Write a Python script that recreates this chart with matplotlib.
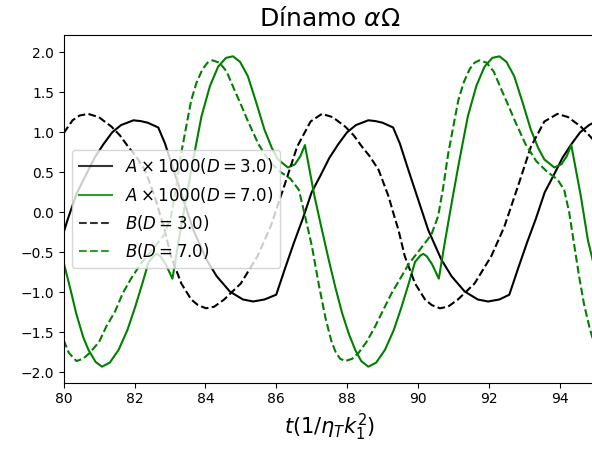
import matplotlib
matplotlib.use("Agg")
import matplotlib.pyplot as plt

#%% Data #######################################################################
# A x 1000, D = 3.0
t_a3 = [80.0, 80.12, 80.37, 80.62, 80.87, 81.12, 81.37, 81.62, 81.97, 82.17, 82.37,
        82.67, 82.86, 83.1, 83.38, 83.66, 84.03, 84.32, 84.69, 85.06, 85.35, 85.67,
        86.0, 86.25, 86.5, 86.75, 87.0, 87.25, 87.5, 87.75, 88.0, 88.25, 88.6, 88.8,
        89.0, 89.3, 89.49, 89.73, 90.01, 90.29, 90.66, 90.95, 91.32, 91.69, 91.98,
        92.3, 92.58, 92.83, 93.08, 93.33, 93.58, 93.83, 94.08, 94.33, 94.58, 94.83,
        95.0]
a3 = [-0.25, -0.08, 0.24, 0.46, 0.68, 0.85, 1.00, 1.09, 1.15, 1.14, 1.12,
      1.06, 0.86, 0.53, 0.155, -0.22, -0.59, -0.80, -0.99, -1.09, -1.115, -1.09,
      -1.03, -0.70, -0.38, -0.08, 0.25, 0.46, 0.68, 0.85, 1.00, 1.09, 1.15, 1.14,
      1.12, 1.06, 0.86, 0.53, 0.155, -0.22, -0.59, -0.80, -0.99, -1.09, -1.115,
      -1.09, -1.03, -0.70, -0.38, -0.08, 0.25, 0.46, 0.68, 0.85, 1.00, 1.09,
      1.13]

# A x 1000, D = 7.0
t_a7 = [80.0, 80.2, 80.35, 80.55, 80.7, 80.9, 81.08, 81.3, 81.55, 81.8, 82.02, 82.2,
        82.4, 82.55, 82.63, 82.73, 82.88, 83.07, 83.23, 83.43, 83.63, 83.89, 84.13,
        84.36, 84.58, 84.78, 84.98, 85.2, 85.43, 85.67, 85.88, 86.05, 86.33, 86.53,
        86.68, 86.81, 87.08, 87.28, 87.48, 87.67, 87.86, 88.05, 88.23, 88.4, 88.6,
        88.82, 89.07, 89.32, 89.54, 89.72, 89.92, 90.07, 90.15, 90.25, 90.4, 90.59,
        90.75, 90.95, 91.15, 91.41, 91.65, 91.88, 92.1, 92.3, 92.5, 92.72, 92.95,
        93.19, 93.4, 93.57, 93.85, 94.05, 94.2, 94.33, 94.6, 94.8, 95.0]
a7 = [-0.63, -0.98, -1.26, -1.56, -1.72, -1.87, -1.93, -1.88, -1.72, -1.47, -1.18, -0.92,
      -0.62, -0.54, -0.52, -0.55, -0.65, -0.83, -0.40, 0.11, 0.60, 1.20, 1.58,
      1.82, 1.93, 1.95, 1.88, 1.70, 1.38, 1.03, 0.80, 0.66, 0.56, 0.60,
      0.70, 0.84, 0.20, -0.20, -0.59, -0.94, -1.26, -1.52, -1.72, -1.86, -1.93,
      -1.88, -1.72, -1.47, -1.18, -0.92, -0.62, -0.54, -0.52, -0.55, -0.65, -0.83,
      -0.40, 0.11, 0.60, 1.20, 1.58, 1.82, 1.93, 1.95, 1.88, 1.70, 1.38,
      1.03, 0.80, 0.66, 0.56, 0.60, 0.70, 0.84, 0.20, -0.35, -0.72]

# B, D = 3.0
t_b3 = [80.0, 80.25, 80.45, 80.69, 80.99, 81.35, 81.59, 81.82, 82.04, 82.29, 82.57,
        82.7, 82.85, 83.03, 83.32, 83.6, 83.79, 84.02, 84.25, 84.53, 85.0, 85.47,
        85.84, 86.22, 86.59, 86.97, 87.29, 87.59, 87.95, 88.19, 88.42, 88.64, 88.89,
        89.17, 89.3, 89.45, 89.63, 89.92, 90.2, 90.39, 90.62, 90.85, 91.13, 91.6,
        92.07, 92.44, 92.82, 93.19, 93.57, 93.94, 94.24, 94.6, 94.84, 95.0]
b3 = [0.99, 1.15, 1.21, 1.23, 1.19, 1.07, 0.96, 0.82, 0.70, 0.53, 0.20,
      0.00, -0.22, -0.55, -0.89, -1.09, -1.16, -1.20, -1.18, -1.09, -0.89, -0.55,
      -0.18, 0.32, 0.82, 1.135, 1.23, 1.19, 1.07, 0.96, 0.82, 0.70, 0.53,
      0.20, 0.00, -0.22, -0.55, -0.89, -1.09, -1.16, -1.20, -1.18, -1.09, -0.89,
      -0.55, -0.18, 0.32, 0.82, 1.135, 1.23, 1.19, 1.07, 0.96, 0.88]

# B, D = 7.0
t_b7 = [80.0, 80.15, 80.36, 80.55, 80.73, 81.0, 81.2, 81.45, 81.67, 81.9, 82.18, 82.5,
        82.84, 83.03, 83.17, 83.31, 83.45, 83.6, 83.75, 83.92, 84.06, 84.2, 84.4, 84.6,
        84.8, 85.0, 85.2, 85.5, 85.8, 86.1, 86.4, 86.64, 86.8, 87.01, 87.2, 87.39,
        87.55, 87.67, 87.8, 87.95, 88.15, 88.32, 88.55, 88.79, 89.0, 89.26, 89.5,
        89.75, 90.05, 90.38, 90.57, 90.71, 90.85, 90.99, 91.14, 91.29, 91.46, 91.6,
        91.74, 91.94, 92.14, 92.34, 92.54, 92.74, 93.04, 93.34, 93.64, 93.94, 94.13,
        94.27, 94.41, 94.55, 94.69, 94.85, 95.0]
b7 = [-1.60, -1.76, -1.86, -1.83, -1.76, -1.62, -1.43, -1.24, -1.01, -0.83, -0.64, -0.47,
      -0.28, -0.05, 0.30, 0.72, 1.05, 1.40, 1.62, 1.79, 1.87, 1.90, 1.87, 1.76,
      1.55, 1.35, 1.14, 0.85, 0.64, 0.51, 0.42, 0.28, -0.02, -0.43, -0.90, -1.32,
      -1.60, -1.74, -1.83, -1.86, -1.83, -1.76, -1.62, -1.43, -1.24, -1.01, -0.83,
      -0.64, -0.47, -0.28, -0.05, 0.30, 0.72, 1.05, 1.40, 1.62, 1.79, 1.87,
      1.90, 1.87, 1.76, 1.55, 1.35, 1.14, 0.85, 0.64, 0.51, 0.41, 0.28,
      0.00, -0.40, -0.80, -1.15, -1.45, -1.68]

#%% Plot #######################################################################
fig = plt.figure(figsize=(5.92, 4.5), dpi=100)
ax = fig.add_axes([0.1076, 0.1496, 0.8975, 0.7733])

ax.plot(t_a3, a3, color="k", lw=1.5, label=r"$A\times1000(D=3.0)$")
ax.plot(t_a7, a7, color="g", lw=1.5, label=r"$A\times1000(D=7.0)$")
ax.plot(t_b3, b3, "--", color="k", lw=1.5, label=r"$B(D=3.0)$")
ax.plot(t_b7, b7, "--", color="g", lw=1.5, label=r"$B(D=7.0)$")

ax.set_xlim(80, 95)
ax.set_ylim(-2.13, 2.22)
ax.set_xticks([80, 82, 84, 86, 88, 90, 92, 94])
ax.set_title(r"Dínamo $\alpha\Omega$", fontsize=18)
ax.set_xlabel(r"$t(1/\eta_T k_1^2)$", fontsize=15)
leg = ax.legend(loc="center left", fontsize=12)
for h in leg.legend_handles:
    h.set_alpha(0.8)

fig.savefig("out.png", dpi=100)
